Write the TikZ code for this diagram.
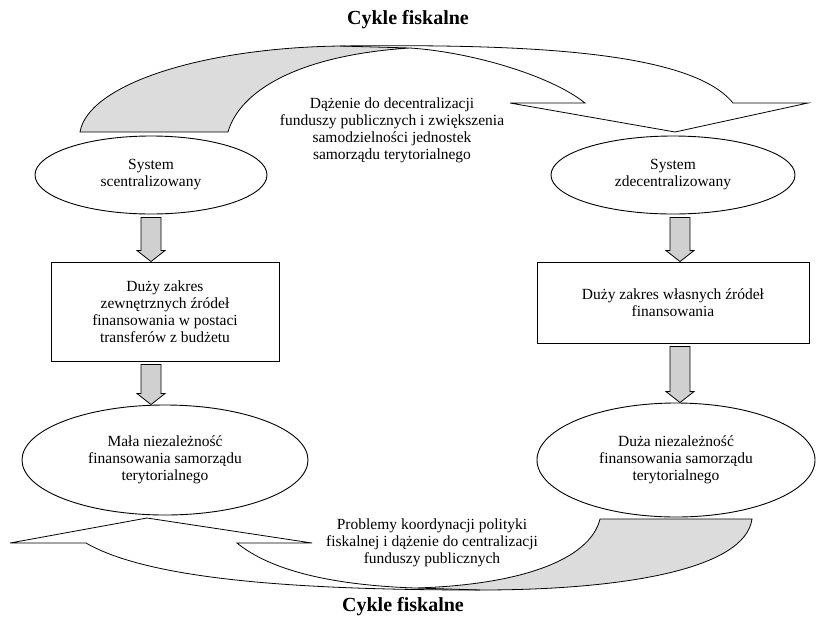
\documentclass[tikz,border=0pt]{standalone}
\usepackage{fontspec}
\setmainfont{Liberation Serif}
\usetikzlibrary{shapes.geometric,calc,positioning}
\definecolor{bandgrey}{RGB}{220,220,220}
\definecolor{arrowgrey}{RGB}{208,208,208}
\tikzset{
          every node/.style={font=\fontsize{15.5}{17}\selectfont,align=center,inner sep=0pt},
          ellip/.style={ellipse,draw=black,line width=0.9pt},
          box/.style={rectangle,draw=black,line width=0.9pt},
          title/.style={font=\fontsize{20}{24}\selectfont\bfseries},
          blockarrow/.style={draw=black,fill=arrowgrey,line width=0.8pt,line join=miter},
          band/.style={draw=black,line width=0.8pt,line join=miter}
        }
\newcommand\DownArrow[3][0]{%
          \draw[blockarrow] let \p1=(#2.south), \p2=(#3.north) in
            (\x1+#1-10,\y1-3) -- (\x1+#1+10,\y1-3) -- (\x1+#1+10,\y2+11)
            -- (\x1+#1+14,\y2+11) -- (\x1+#1,\y2) -- (\x1+#1-14,\y2+11)
            -- (\x1+#1-10,\y2+11) -- cycle;
        }

\begin{document}
\begin{tikzpicture}[x=1pt,y=-1pt]
            \useasboundingbox (0,0) rectangle (817,625);
            \node[title] (topTitle) at (408,20) {Cykle fiskalne};
            \node[title] (botTitle) at (403,607) {Cykle fiskalne};

            % left column
            \node[ellip,minimum width=232,minimum height=78] (sysC) at (151,175) {System\\scentralizowany};
            \node[box,minimum width=228,minimum height=99] (extBox) at (165,311.5) {Duży zakres\\zewnętrznych źródeł\\finansowania w postaci\\transferów z budżetu};
            \node[ellip,minimum width=286,minimum height=110] (lowInd) at (165,460) {Mała niezależność\\finansowania samorządu\\terytorialnego};

            % right column
            \node[ellip,minimum width=244,minimum height=78] (sysD) at (673,175) {System\\zdecentralizowany};
            \node[box,minimum width=272,minimum height=81] (ownBox) at (673,302.5) {Duży zakres własnych źródeł\\finansowania};
            \node[ellip,minimum width=278,minimum height=114] (highInd) at (676,460) {Duża niezależność\\finansowania samorządu\\terytorialnego};

            \DownArrow{sysC}{extBox}
            \DownArrow[-14]{extBox}{lowInd}
            \DownArrow[7]{sysD}{ownBox}
            \DownArrow[7]{ownBox}{highInd}

            % cycle ribbons
            \filldraw[band,fill=bandgrey] (80,132) .. controls (88,85) and (200,48) .. (340,46)
              -- (410,48) .. controls (300,55) and (240,90) .. (228,132) -- cycle;
            \draw[band] (340,46) .. controls (520,44) and (690,50) .. (733,103) -- (808,103)
              -- (675,132) -- (510,103) -- (585,103) .. controls (550,75) and (470,52) .. (410,48);
            \filldraw[band,fill=bandgrey] (600,519) -- (752,519) .. controls (745,570) and (620,590) .. (480,590)
              -- (415,588) .. controls (520,585) and (590,560) .. (600,519) -- cycle;
            \draw[band] (480,590) .. controls (300,590) and (150,580) .. (86,543) -- (10,543)
              -- (147,518) -- (312,543) -- (237,543) .. controls (270,570) and (330,585) .. (415,588);

            \node (decLabel) at (392,130) {Dążenie do decentralizacji\\funduszy publicznych i zwiększenia\\samodzielności jednostek\\samorządu terytorialnego};
            \node (cenLabel) at (432,543) {Problemy koordynacji polityki\\fiskalnej i dążenie do centralizacji\\funduszy publicznych};
\end{tikzpicture}
\end{document}
